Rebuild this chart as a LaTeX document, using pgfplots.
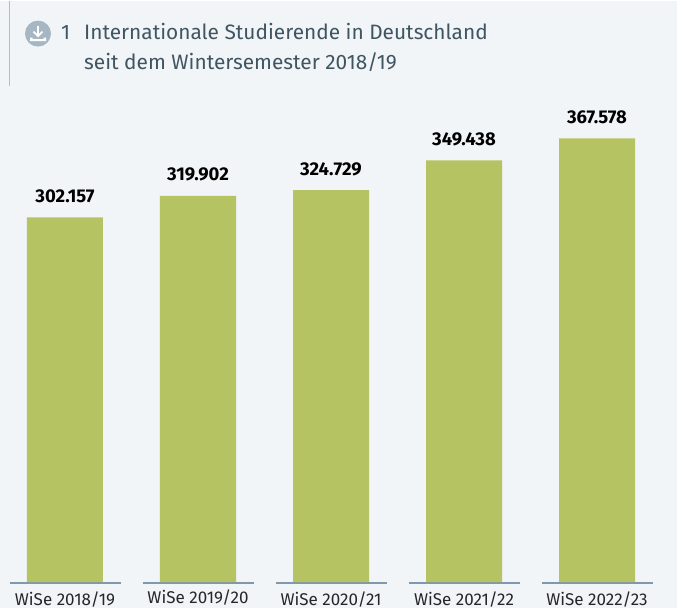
\documentclass[border=0pt]{standalone}
\usepackage{fontspec}
\setmainfont{Fira Sans}
\usepackage{pgfplots}
\pgfplotsset{compat=1.18}
\definecolor{bgc}{HTML}{F1F5F7}
\definecolor{barc}{HTML}{B6C363}
\definecolor{linec}{HTML}{7F98AB}
\definecolor{titlec}{HTML}{3F5561}
\definecolor{iconc}{HTML}{A6B7C3}
\definecolor{rulec}{HTML}{B0BFCA}
\begin{document}
\begin{tikzpicture}
\begin{axis}[
    scale only axis,
    width=677pt, height=607.5pt,
    xmin=-0.4887, xmax=4.6015,
    ymin=-21523, ymax=481788,
    axis background/.style={fill=bgc},
    axis x line=middle,
    axis y line=none,
    x axis line style={draw=none},
    xtick={0,1,2,3,4},
    xticklabels={WiSe 2018/19,\raisebox{2pt}[\height][\depth]{WiSe 2019/20},WiSe 2020/21,WiSe 2021/22,WiSe 2022/23},
    xticklabel style={font=\fontsize{17}{18}\selectfont, text=black!85, yshift=-6pt},
    major tick length=0pt,
    ytick=\empty,
    clip=false,
    unbounded coords=jump,
]
% per-semester baselines
\addplot[linec, line width=1.2pt, forget plot] coordinates {(-0.414,-700) (0.421,-700) (nan,nan) (0.586,-700) (1.421,-700) (nan,nan) (1.586,-700) (2.421,-700) (nan,nan) (2.586,-700) (3.421,-700) (nan,nan) (3.586,-700) (4.421,-700)};
\addplot[ybar, bar width=76pt, fill=barc, draw=none,
    nodes near coords={\pgfmathprintnumber[fixed, precision=0, 1000 sep={.}, assume math mode=true]{\pgfplotspointmeta}},
    nodes near coords style={font=\fontsize{18.5}{20}\selectfont\bfseries, text=black, yshift=11pt},
    point meta=y] coordinates {
    (0,302157) (1,319902) (2,324729) (3,349438) (4,367578)
};
\end{axis}
\begin{scope}[shift={(0,607.5pt)}, x=1pt, y=-1pt]
  \draw[rulec, line width=1.2pt] (9.5,0) -- (9.5,85);
  \fill[iconc] (38,33) circle (13);
  \draw[white, line width=1.8pt] (38,25) -- (38,35);
  \draw[white, line width=1.8pt] (33.5,31) -- (38,35.5) -- (42.5,31);
  \fill[white] (30,37) -- (30,40.5) -- (46,40.5) -- (46,37) -- (43.5,37) -- (43.5,38.5) -- (32.5,38.5) -- (32.5,37) -- cycle;
  \node[anchor=base west, inner sep=0, text=titlec, font=\fontsize{20.85}{26}\selectfont] at (61,39) {1};
  \node[anchor=base west, inner sep=0, text=titlec, font=\fontsize{20.85}{26}\selectfont] at (84,39) {Internationale Studierende in Deutschland};
  \node[anchor=base west, inner sep=0, text=titlec, font=\fontsize{20.85}{26}\selectfont] at (84,69) {seit dem Wintersemester 2018/19};
\end{scope}
\end{tikzpicture}
\end{document}
